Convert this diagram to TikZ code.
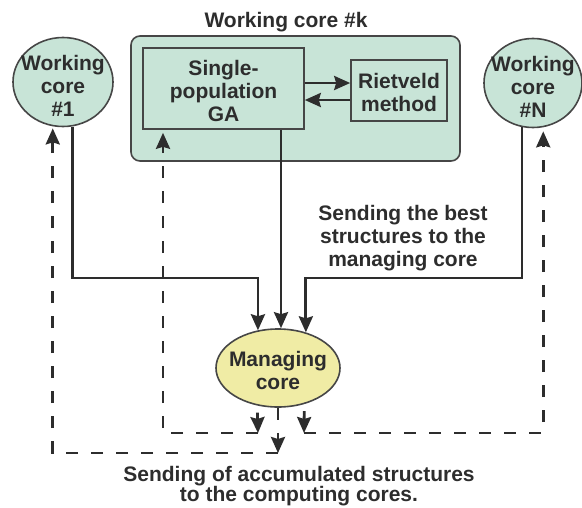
\documentclass[tikz,border=0pt]{standalone}
\usepackage{fontspec}
\setmainfont{Liberation Sans}
\usetikzlibrary{arrows.meta,shapes.geometric}
\definecolor{mint}{RGB}{200,228,215}
\definecolor{paleyellow}{RGB}{240,236,165}
\definecolor{ink}{RGB}{45,45,45}
\definecolor{edge}{RGB}{70,70,70}
\begin{document}
\begin{tikzpicture}[x=1pt,y=-1pt,
  txt/.style={font=\fontsize{21}{23}\selectfont\bfseries, text=ink, align=center, inner sep=0pt},
  corebox/.style={draw=edge, line width=1.6pt, fill=mint},
  arr/.style={draw=ink, line width=2.8pt, -{Stealth[length=16pt,width=14pt,inset=2pt]}},
  darr/.style={arr, dash pattern=on 12pt off 13pt}]
\useasboundingbox (0,0) rectangle (582,507);
% nodes
\node[txt] (title) at (286,22) {Working core \#k};
\node[corebox, rounded corners=9pt, minimum width=329pt, minimum height=125pt, inner sep=0pt] (wk) at (295.5,98.5) {};
\node[corebox, rectangle, minimum width=161pt, minimum height=81pt, inner sep=0pt] (ga) at (223.5,88.5) {};
\node[txt] (gat) at (223.5,91) {Single-\\population\\GA};
\node[corebox, rectangle, minimum width=96pt, minimum height=61pt, inner sep=0pt] (riet) at (399,90.5) {};
\node[txt] (rt) at (399,92) {Rietveld\\method};
\node[corebox, ellipse, minimum width=100pt, minimum height=89pt, inner sep=0pt] (c1) at (63,82) {};
\node[txt] (c1t) at (63,86) {Working\\core\\\#1};
\node[corebox, ellipse, minimum width=98pt, minimum height=89pt, inner sep=0pt] (cN) at (533,83) {};
\node[txt] (cNt) at (533,87) {Working\\core\\\#N};
\node[draw=edge, line width=1.6pt, fill=paleyellow, ellipse, minimum width=124pt, minimum height=78pt, inner sep=0pt] (mc) at (278,368) {};
\node[txt] (mct) at (278,370) {Managing\\core};
\node[txt] (lab1) at (403,238) {Sending the best\\structures to the\\managing core};
\node[txt, font=\fontsize{21}{20.5}\selectfont\bfseries] (lab2) at (299,486) {Sending of accumulated structures\\to the computing cores.};
% helper coordinates
\coordinate (ra) at (0,83);
\coordinate (rb) at (0,100);
\coordinate (j1) at (0,278);
\coordinate (gx) at (281,0);
\coordinate (gl) at (163,0);
\coordinate (b1) at (278,453);
\coordinate (b2) at (258,433);
\coordinate (b3) at (304,433);
% GA <-> Rietveld
\draw[arr] (ga.east |- ra) -- (riet.west |- ra);
\draw[arr] (riet.west |- rb) -- (ga.east |- rb);
% solid: cores to managing core
\draw[arr] (c1.282) -- (c1.282 |- j1) -| (mc.118);
\draw[arr] (ga.south -| gx) -- (mc.north -| gx);
\draw[arr] (cN.256) -- (cN.256 |- j1) -| (mc.52);
% dashed: managing core back to cores
\draw[darr] (mc.south) -- (b1);
\draw[darr, shorten >=2pt] (b1) -| (c1.257);
\draw[arr, shorten <=7pt] (mc.241) -- (b2);
\draw[darr, shorten >=3pt] (b2) -| (ga.south -| gl);
\draw[arr, shorten <=7pt] (mc.306) -- (b3);
\draw[darr, shorten >=4pt] (b3) -| (cN.283);
\end{tikzpicture}
\end{document}
